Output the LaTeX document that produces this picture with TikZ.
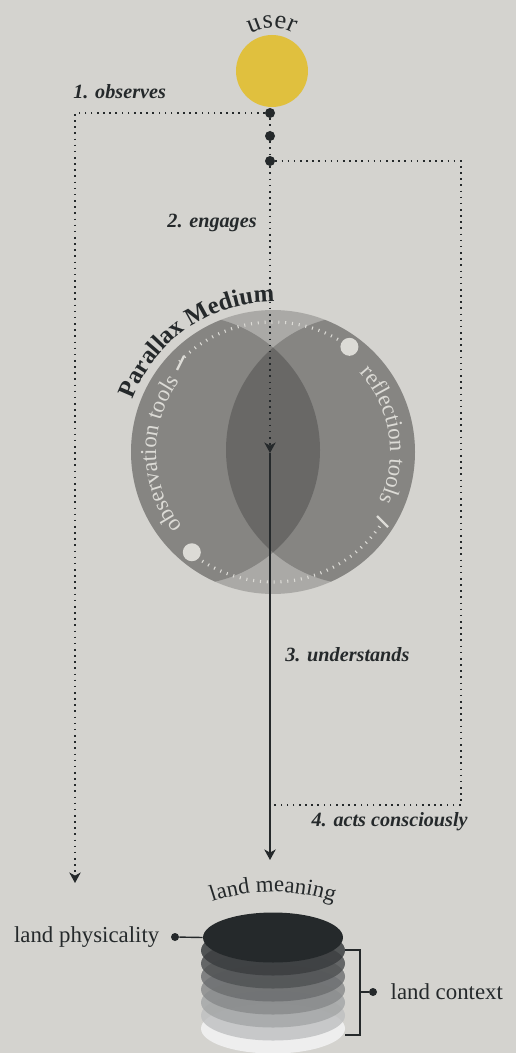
\documentclass[tikz,border=0pt]{standalone}
\usepackage{fontspec}
\setmainfont{Liberation Serif}
\usetikzlibrary{arrows.meta,shapes.geometric,decorations.text,positioning}

\definecolor{paper}{HTML}{D4D3CF}
\definecolor{ink}{HTML}{25292B}
\definecolor{gold}{HTML}{E0C03E}
\definecolor{disk}{HTML}{AAA9A6}
\definecolor{chalk}{HTML}{DCDBD6}

\tikzset{
  dotline/.style={ink, line width=0.9pt, dash pattern=on 0.9pt off 2.6pt},
  arrowend/.style={-{Stealth[length=6pt,width=6.5pt,inset=1.8pt]}},
  verb/.style={font=\fontsize{11.5}{13}\selectfont\bfseries\itshape, text=ink, inner sep=0pt},
  tag/.style={font=\fontsize{13}{15}\selectfont, text=ink, inner sep=0pt},
  blob/.style={circle, fill=ink, inner sep=0pt, minimum size=0.2cm},
  curved/.style={decorate, decoration={text along path, text align=center, text color=#1}},
}

\begin{document}
\begin{tikzpicture}[x=0.02cm, y=0.02cm]
  \useasboundingbox (0,0) rectangle (516,-1053);
  \fill[paper] (0,0) rectangle (516,-1053);

  % the medium
  \node[circle, fill=disk, inner sep=0pt, minimum size=5.68cm] (medium) at (273,-452) {};
  \begin{scope}
    \clip (medium.center) circle (142);
    \fill[black, fill opacity=0.21] (185,-450) circle (135);
    \fill[black, fill opacity=0.21] (361,-450) circle (135);
  \end{scope}
  \draw[chalk, line width=1.8pt, dash pattern=on 0.6pt off 3.3pt] (medium.center) ++(136:130) arc[start angle=136, end angle=54, radius=130];
  \draw[chalk, line width=1.8pt, dash pattern=on 0.6pt off 3.3pt] (medium.center) ++(231:130) arc[start angle=231, end angle=327, radius=130];
  \node[circle, fill=chalk, inner sep=0pt, minimum size=0.36cm] (reflectdot) at ([shift={(54:130)}]medium.center) {};
  \node[circle, fill=chalk, inner sep=0pt, minimum size=0.36cm] (observedot) at ([shift={(231:129)}]medium.center) {};
  \draw[chalk, line width=1.3pt] (177,-370) -- (184,-356);
  \draw[chalk, line width=1.3pt] (377,-516) -- (388,-527);
  \path[curved=chalk, decoration={text={|\fontsize{13}{15}\selectfont|observation tools}}] (medium.center) ++(221:117) arc[start angle=221, end angle=141, radius=117];
  \path[curved=chalk, decoration={text={|\fontsize{13}{15}\selectfont|reflection tools}}] (medium.center) ++(49:117) arc[start angle=49, end angle=-31, radius=117];
  \path[curved=ink, decoration={text={|\fontsize{14}{16}\selectfont\bfseries|Parallax Medium}}] (medium.center) ++(169:150) arc[start angle=169, end angle=80, radius=150];

  % the user
  \node[circle, fill=gold, inner sep=0pt, minimum size=1.44cm] (user) at (272,-71) {};
  \path[curved=ink, decoration={text={|\fontsize{15}{17}\selectfont|user}}] (user.center) ++(140:43) arc[start angle=140, end angle=40, radius=43];
  \node[blob] (dot1) at (270,-113) {};
  \node[blob] (dot2) at (270,-136) {};
  \node[blob] (dot3) at (270,-161) {};

  % the land
  \foreach \k/\p/\o in {7/8/1, 6/30/0.8, 5/42/0.8, 4/55/0.8, 3/68/0.8, 2/80/0.85, 1/90/0.85}
    \fill[ink!\p, fill opacity=\o] (273,{-937.5-13*\k}) ellipse [x radius=72, y radius=25];
  \node[ellipse, fill=ink, inner sep=0pt, minimum width=2.8cm, minimum height=1cm] (meaning) at (273,-937.5) {};
  \path[curved=ink, decoration={text={|\fontsize{13}{15}\selectfont|land meaning}}] (273,-1082) ++(115:190) arc[start angle=115, end angle=65, radius=190];
  \node[blob, minimum size=0.16cm] (physdot) at (175,-937) {};
  \node[tag, left=0.22cm of physdot] (physicality) {land physicality};
  \draw[ink, line width=0.8pt] (physdot) -- (meaning.west);
  \coordinate (bracktop) at (345,-950);
  \coordinate (brackbot) at (345,-1035);
  \node[blob, minimum size=0.16cm] (ctxdot) at (373,-992) {};
  \node[tag, right=0.26cm of ctxdot] (context) {land context};
  \draw[ink, line width=0.8pt] (bracktop) -- ++(15,0) |- (brackbot);
  \draw[ink, line width=0.8pt] (360,-992) -- (ctxdot);

  % the steps
  \coordinate (obsturn) at (75,-113);
  \coordinate (obsend) at (75,-883);
  \coordinate (hub) at (270,-453);
  \coordinate (landin) at (270,-860);
  \coordinate (actturn) at (461,-161);
  \coordinate (actdown) at (461,-805);
  \coordinate (actend) at (270,-805);
  \draw[dotline] (dot1) -- (dot2) -- (dot3);
  \draw[dotline, arrowend] (dot1) -- (obsturn) -- (obsend);
  \draw[dotline, arrowend] (dot3) -- (hub);
  \draw[dotline] (dot3) -- (actturn) -- (actdown) -- (actend);
  \draw[ink, line width=1.1pt, arrowend] (hub) -- (landin);

  \node[verb, anchor=west] (observes) at (73,-92) {1. observes};
  \node[verb, anchor=east] (engages) at (257,-223) {2. engages};
  \node[verb, anchor=west] (understands) at (285,-655) {3. understands};
  \node[verb, anchor=east] (acts) at (468,-822) {4. acts consciously};
\end{tikzpicture}
\end{document}
